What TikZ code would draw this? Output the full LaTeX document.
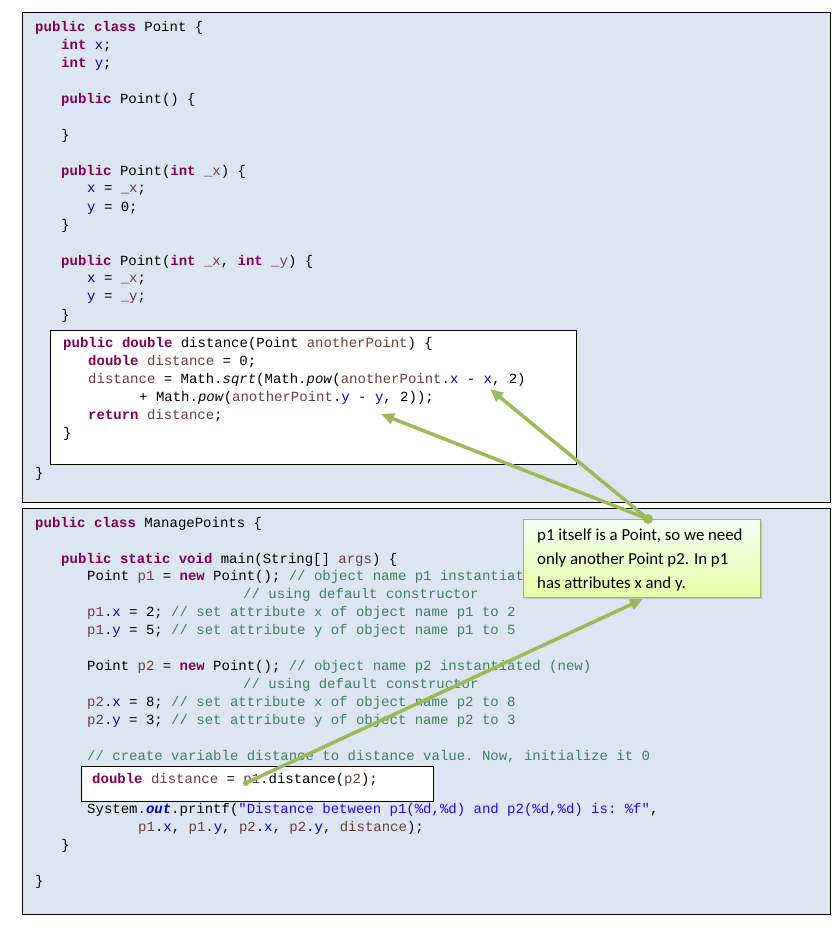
\documentclass[tikz,border=0pt]{standalone}
\usepackage{fontspec}
\setmonofont{Liberation Mono}
\newfontfamily\calfont{Carlito}
\usetikzlibrary{arrows.meta,shadows}
\definecolor{panelbg}{HTML}{DCE6F2}
\definecolor{kwc}{HTML}{7F0055}
\definecolor{fdc}{HTML}{0000C0}
\definecolor{lvc}{HTML}{6A3E3E}
\definecolor{cmc}{HTML}{3F7F5F}
\definecolor{stc}{HTML}{2A00FF}
\definecolor{grn}{HTML}{9BBB59}
\newcommand\kw[1]{\textcolor{kwc}{\bfseries #1}}
\newcommand\fd[1]{\textcolor{fdc}{#1}}
\newcommand\lv[1]{\textcolor{lvc}{#1}}
\newcommand\cm[1]{\textcolor{cmc}{#1}}
\newcommand\st[1]{\textcolor{stc}{#1}}
\begin{document}
\begin{tikzpicture}[x=1pt,y=-1pt,
  code/.style={anchor=west,inner sep=0pt,font=\ttfamily\fontsize{14}{16}\selectfont},
  panel/.style={draw=black,fill=panelbg,line width=0.8pt},
  inner/.style={draw=black,fill=white,line width=0.8pt},
  callout/.style={draw=grn,line width=0.8pt,top color=green!4!white,bottom color=green!30!yellow!35!white,
     drop shadow={opacity=0.3,shadow xshift=2pt,shadow yshift=-2pt}},
  ptr/.style={draw=grn,line width=3.5pt,-{Triangle[length=13pt,width=11pt]}},
  ctext/.style={anchor=west,inner sep=0pt,font=\calfont\fontsize{16.8}{18}\selectfont}]
\useasboundingbox (0,0) rectangle (834,929);
\draw[panel] (22,12) rectangle (830,502);
\draw[panel] (22,508) rectangle (830,914);
\draw[inner] (50,330) rectangle (576,464);
\draw[inner] (81,766) rectangle (433,801);
% panel 1
\node[code] (a1) at (35,28) {\kw{public} \kw{class} Point \{};
\node[code] (a2) at (61,46) {\kw{int} \fd{x};};
\node[code] (a3) at (61,64) {\kw{int} \fd{y};};
\node[code] (a4) at (61,100) {\kw{public} Point() \{};
\node[code] (a5) at (61,136) {\}};
\node[code] (a6) at (61,172) {\kw{public} Point(\kw{int} \lv{\_x}) \{};
\node[code] (a7) at (87,190) {\fd{x} = \lv{\_x};};
\node[code] (a8) at (87,208) {\fd{y} = 0;};
\node[code] (a9) at (61,226) {\}};
\node[code] (a10) at (61,262) {\kw{public} Point(\kw{int} \lv{\_x}, \kw{int} \lv{\_y}) \{};
\node[code] (a11) at (87,280) {\fd{x} = \lv{\_x};};
\node[code] (a12) at (87,298) {\fd{y} = \lv{\_y};};
\node[code] (a13) at (61,316) {\}};
\node[code] (a14) at (63,344) {\kw{public} \kw{double} distance(Point \lv{anotherPoint}) \{};
\node[code] (a15) at (88,362) {\kw{double} \lv{distance} = 0;};
\node[code] (a16) at (88,380) {\lv{distance} = Math.\textit{sqrt}(Math.\textit{pow}(\lv{anotherPoint}.\fd{x} - \fd{x}, 2)};
\node[code] (a17) at (139,398) {+ Math.\textit{pow}(\lv{anotherPoint}.\fd{y} - \fd{y}, 2));};
\node[code] (a18) at (88,416) {\kw{return} \lv{distance};};
\node[code] (a19) at (63,434) {\}};
\node[code] (a20) at (35,474) {\}};
% panel 2
\node[code] (b1) at (35,524) {\kw{public} \kw{class} ManagePoints \{};
\node[code] (b2) at (61,560) {\kw{public} \kw{static} \kw{void} main(String[] \lv{args}) \{};
\node[code] (b3) at (87,577) {Point \lv{p1} = \kw{new} Point(); \cm{// object name p1 instantiated (new)}};
\node[code] (b4) at (243,595) {\cm{// using default constructor}};
\node[code] (b5) at (87,613) {\lv{p1}.\fd{x} = 2; \cm{// set attribute x of object name p1 to 2}};
\node[code] (b6) at (87,631) {\lv{p1}.\fd{y} = 5; \cm{// set attribute y of object name p1 to 5}};
\node[code] (b7) at (87,667) {Point \lv{p2} = \kw{new} Point(); \cm{// object name p2 instantiated (new)}};
\node[code] (b8) at (243,685) {\cm{// using default constructor}};
\node[code] (b9) at (87,703) {\lv{p2}.\fd{x} = 8; \cm{// set attribute x of object name p2 to 8}};
\node[code] (b10) at (87,721) {\lv{p2}.\fd{y} = 3; \cm{// set attribute y of object name p2 to 3}};
\node[code] (b11) at (87,757) {\cm{// create variable distance to distance value. Now, initialize it 0}};
\node[code] (b12) at (92,780) {\kw{double} \lv{distance} = \lv{p1}.distance(\lv{p2});};
\node[code] (b13) at (87,810) {System.\textcolor{fdc}{\bfseries\itshape out}.printf(\st{"Distance between p1(\%d,\%d) and p2(\%d,\%d) is: \%f"},};
\node[code] (b14) at (138,828) {\lv{p1}.\fd{x}, \lv{p1}.\fd{y}, \lv{p2}.\fd{x}, \lv{p2}.\fd{y}, \lv{distance});};
\node[code] (b15) at (61,846) {\}};
\node[code] (b16) at (35,882) {\}};
% callout
\draw[callout] (523,519) rectangle (760,597);
\node[ctext] (c1) at (537,536) {p1 itself is a Point, so we need};
\node[ctext] (c2) at (537,560) {only another Point p2. In p1};
\node[ctext] (c3) at (537,584) {has attributes x and y.};
% pointers
\coordinate (dot) at (648,519);
\coordinate (tx) at (490,389);
\coordinate (ty) at (381,414);
\coordinate (src) at (246,783);
\coordinate (tc) at (643,599);
\draw[ptr] (dot) -- (tx);
\draw[ptr] (dot) -- (ty);
\draw[ptr,line cap=round] (src) -- (tc);
\fill[grn] (dot) circle (5pt);
\fill[grn] (src) circle (3pt);
\end{tikzpicture}
\end{document}
